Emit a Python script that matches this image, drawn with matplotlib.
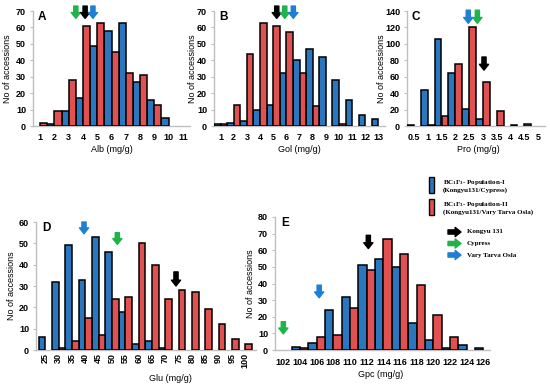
import numpy as np
import matplotlib.pyplot as plt
from matplotlib.patches import Rectangle

plt.rcParams['font.family'] = ['Liberation Sans', 'DejaVu Sans']
plt.rcParams['font.weight'] = 'bold'
plt.rcParams['font.size'] = 6.5
plt.rcParams['mathtext.default'] = 'regular'

W, H = 550, 386

BLUE = '#2a77c0'
RED = '#e05252'
AXIS = '#bfbfbf'
arrow_colors = {'Kongyu 131': 'black', 'Cypress': '#1fb34a', 'Vary Tarva Osla': '#1e7fd3'}

# A - albumin
alb_labels = [str(v) for v in range(1, 12)]
alb_pop1 = [0, 1, 9, 17, 49, 58, 63, 27, 16, 5, 0]
alb_pop2 = [2, 9, 28, 61, 63, 45, 32, 31, 13, 0, 0]
alb_parents = {'Cypress': (3.5, 73, 65.5), 'Kongyu 131': (4.15, 73, 65.5),
               'Vary Tarva Osla': (4.7, 73, 65.5)}

# B - globulin
gol_labels = [str(v) for v in range(1, 14)]
gol_pop1 = [1, 2, 3, 10, 13, 32, 40, 47, 42, 28, 16, 7, 4]
gol_pop2 = [1, 13, 44, 63, 61, 57, 32, 12, 0, 1, 0, 0, 0]
gol_parents = {'Kongyu 131': (5.27, 73, 65.5), 'Cypress': (5.88, 73, 65.5),
               'Vary Tarva Osla': (6.53, 73, 65.5)}

# C - prolamin
pro_labels = ['0.5', '1', '1.5', '2', '2.5', '3', '3.5', '4', '4.5', '5']
pro_pop1 = [1, 44, 106, 65, 21, 8, 0, 0, 0, 0]
pro_pop2 = [0, 1, 12, 75, 120, 54, 18, 1, 3, 0]
pro_parents = {'Vary Tarva Osla': (2.47, 141, 125), 'Cypress': (2.8, 141, 125),
               'Kongyu 131': (3.04, 84, 68)}

# D - glutelin
glu_labels = [str(v) for v in range(25, 101, 5)]
glu_pop1 = [6, 32, 49, 33, 53, 46, 18, 3, 4, 1, 0, 0, 0, 0, 0, 0]
glu_pop2 = [0, 1, 4, 15, 7, 24, 25, 50, 40, 24, 28, 27, 19, 12, 5, 3]
glu_parents = {'Vary Tarva Osla': (39.5, 60, 54.5), 'Cypress': (52, 55, 49.5),
               'Kongyu 131': (74, 36.6, 30)}

# E - grain protein content
gpc_labels = [str(v) for v in range(102, 127, 2)]
gpc_pop1 = [0, 2, 4, 24, 32, 51, 55, 50, 16, 6, 1, 3, 1]
gpc_pop2 = [0, 1, 8, 9, 25, 48, 67, 58, 39, 21, 8, 0, 0]
gpc_parents = {'Cypress': (102, 17, 9.7), 'Vary Tarva Osla': (106.3, 39, 31.4),
               'Kongyu 131': (112.2, 69, 61)}

pop_names = ['BC$_1$F$_3$- Population-I\n(Kongyu131/Cypress)',
             'BC$_1$F$_3$- Population-II\n(Kongyu131/Vary Tarva Osla)']
parent_names = ['Kongyu 131', 'Cypress', 'Vary Tarva Osla']

fig = plt.figure(figsize=(W / 100, H / 100), dpi=100)


def fpx(x, y):
    return x / W, 1 - y / H


def panel(box, labels, pop1, pop2, ymax, ystep, letter, xlabel, parents,
          xlim, ylabel_x, xlabel_xy, rot=0, tickpad=5):
    l, t, r, b = box
    ax = fig.add_axes([l / W, 1 - b / H, (r - l) / W, (b - t) / H])
    x = np.arange(len(labels))
    w = 0.5
    p1 = np.array(pop1)
    p2 = np.array(pop2)
    ax.bar(x[p1 > 0] - w / 2, p1[p1 > 0], w, color=BLUE, edgecolor='black',
           linewidth=1.1, zorder=3)
    ax.bar(x[p2 > 0] + w / 2, p2[p2 > 0], w, color=RED, edgecolor='black',
           linewidth=1.1, zorder=3)
    ax.set_xlim(*xlim)
    ax.set_ylim(0, ymax)
    ax.set_yticks(np.arange(0, ymax + 1, ystep))
    ax.set_xticks(x, labels, rotation=rot)
    for s in ['top', 'right']:
        ax.spines[s].set_visible(False)
    for s in ['left', 'bottom']:
        ax.spines[s].set_color(AXIS)
        ax.spines[s].set_linewidth(1)
    ax.tick_params(axis='x', length=0, pad=tickpad)
    ax.tick_params(axis='y', length=2, color=AXIS, width=0.8, pad=3)
    ax.set_ylabel('No of accessions')
    ax.yaxis.set_label_coords((ylabel_x - l) / (r - l), 0.5)
    ax.set_xlabel(xlabel)
    ax.xaxis.set_label_coords((xlabel_xy[0] - l) / (r - l), (b - xlabel_xy[1]) / (b - t))
    ax.text(0.03, 1.0, letter, transform=ax.transAxes, fontsize=8.5,
            va='top', ha='left')

    first = float(labels[0])
    step = float(labels[1]) - first
    for name, (xv, top, tip) in parents.items():
        xi = (xv - first) / step
        ax.annotate('', xy=(xi, tip), xytext=(xi, top),
                    arrowprops=dict(arrowstyle='simple,head_width=0.55,head_length=0.35,tail_width=0.25',
                                    color=arrow_colors[name], shrinkA=0, shrinkB=0,
                                    mutation_scale=12, clip_on=False),
                    annotation_clip=False)
    return ax


panel((33, 11, 190, 126), alb_labels, alb_pop1, alb_pop2, 70, 10, 'A', 'Alb (mg/g)',
      alb_parents, (-0.5, 10.5), 12, (112, 145))
panel((214, 11, 385, 126), gol_labels, gol_pop1, gol_pop2, 70, 10, 'B', 'Gol (mg/g)',
      gol_parents, (-0.5, 12.5), 197, (299, 145))
panel((407, 11, 545, 126), pro_labels, pro_pop1, pro_pop2, 140, 20, 'C', 'Pro (mg/g)',
      pro_parents, (-0.5, 9.5), 386, (478, 145))
panel((36, 222, 256, 350), glu_labels, glu_pop1, glu_pop2, 60, 10, 'D', 'Glu (mg/g)',
      glu_parents, (-0.7, 15.8), 16, (170, 374), rot=90, tickpad=2)
panel((275, 217, 490, 350), gpc_labels, gpc_pop1, gpc_pop2, 80, 10, 'E', 'Gpc (mg/g)',
      gpc_parents, (-0.5, 12.4), 255, (381, 370), tickpad=6)

# legend
serif = dict(family=['Liberation Serif', 'DejaVu Serif'], fontsize=5, weight='bold')
for i, (name, col) in enumerate(zip(pop_names, [BLUE, RED])):
    top = 177 + i * 22
    fig.add_artist(Rectangle(fpx(429, top + 16), 5 / W, 16 / H, transform=fig.transFigure,
                             facecolor=col, edgecolor='black', linewidth=1))
    fig.text(*fpx(443, top + 8.5), name, va='center', ha='left', linespacing=1.25, **serif)

for i, name in enumerate(parent_names):
    y = 232 + i * 11.5
    fig.add_artist(plt.matplotlib.patches.FancyArrowPatch(
        fpx(448, y), fpx(461, y), transform=fig.transFigure,
        arrowstyle='simple,head_width=0.55,head_length=0.35,tail_width=0.25',
        mutation_scale=12, color=arrow_colors[name], shrinkA=0, shrinkB=0))
    fig.text(*fpx(467, y), name, va='center', ha='left', **serif)

fig.savefig('out.png', dpi=100)
